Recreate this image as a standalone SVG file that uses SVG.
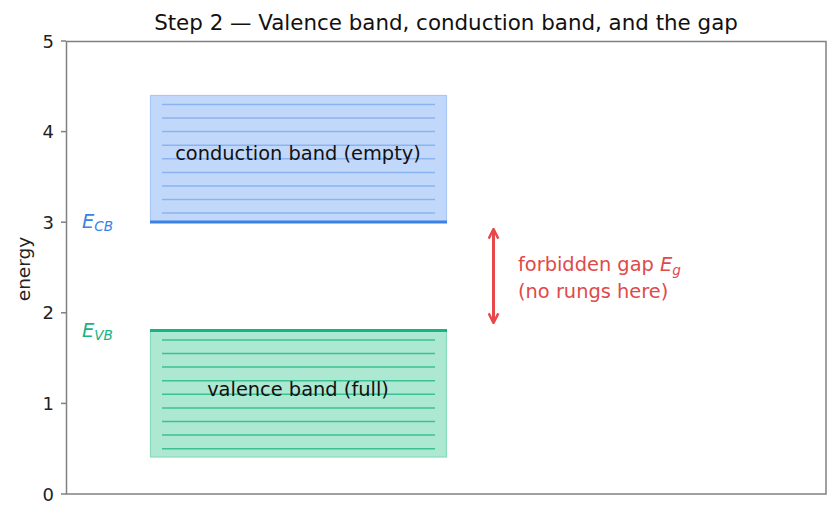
<svg xmlns="http://www.w3.org/2000/svg" width="840" height="519" viewBox="0 0 840 519">
<style>
text{font-family:"DejaVu Sans",sans-serif;}
.tick{font-size:18px;fill:#222;}
.axis{stroke:#808080;stroke-width:1.5;fill:none;}
.cbr{stroke:#8ab4f0;stroke-width:1.5;}
.vbr{stroke:#3cc194;stroke-width:1.5;}
</style>
<defs>
<marker id="ah" viewBox="0 0 10 10" refX="9" refY="5" markerWidth="4" markerHeight="4" orient="auto-start-reverse" markerUnits="strokeWidth">
<path d="M1,1 L9,5 L1,9" fill="none" stroke="#e8484a" stroke-width="2"/>
</marker>
</defs>
<rect width="840" height="519" fill="#fff"/>
<text x="446" y="30" font-size="21.4" text-anchor="middle" fill="#111">Step 2 — Valence band, conduction band, and the gap</text>
<g id="axes">
<rect class="axis" x="66.5" y="41.5" width="759.5" height="452.5"/>
<g stroke="#808080" stroke-width="1.5">
<line x1="61" y1="494" x2="66" y2="494"/><line x1="61" y1="403.4" x2="66" y2="403.4"/><line x1="61" y1="312.8" x2="66" y2="312.8"/><line x1="61" y1="222.2" x2="66" y2="222.2"/><line x1="61" y1="131.6" x2="66" y2="131.6"/><line x1="61" y1="41" x2="66" y2="41"/>
</g>
<g class="tick" text-anchor="end">
<text x="54" y="500.5">0</text><text x="54" y="410">1</text><text x="54" y="319.3">2</text><text x="54" y="228.7">3</text><text x="54" y="138.1">4</text><text x="54" y="47.5">5</text>
</g>
<text transform="translate(30,269) rotate(-90)" font-size="18.5" text-anchor="middle" fill="#222">energy</text>
</g>
<g id="conduction">
<rect x="150.5" y="95.5" width="296" height="126.5" fill="#c2d8fb" stroke="#a9c7f5" stroke-width="1.2"/>
<g class="cbr">
<line x1="162" y1="104.4" x2="435" y2="104.4"/><line x1="162" y1="118" x2="435" y2="118"/><line x1="162" y1="131.6" x2="435" y2="131.6"/><line x1="162" y1="145.2" x2="435" y2="145.2"/><line x1="162" y1="158.8" x2="435" y2="158.8"/><line x1="162" y1="172.4" x2="435" y2="172.4"/><line x1="162" y1="186" x2="435" y2="186"/><line x1="162" y1="199.5" x2="435" y2="199.5"/><line x1="162" y1="213.1" x2="435" y2="213.1"/>
</g>
<line x1="150" y1="222" x2="447" y2="222" stroke="#3b82e6" stroke-width="3"/>
<text x="298" y="159.5" font-size="19.4" text-anchor="middle" fill="#111">conduction band (empty)</text>
</g>
<g id="valence">
<rect x="150.5" y="331" width="296" height="126" fill="#ade8d2" stroke="#8adabd" stroke-width="1.2"/>
<g class="vbr">
<line x1="162" y1="340" x2="435" y2="340"/><line x1="162" y1="353.5" x2="435" y2="353.5"/><line x1="162" y1="367.1" x2="435" y2="367.1"/><line x1="162" y1="380.7" x2="435" y2="380.7"/><line x1="162" y1="394.3" x2="435" y2="394.3"/><line x1="162" y1="407.9" x2="435" y2="407.9"/><line x1="162" y1="421.5" x2="435" y2="421.5"/><line x1="162" y1="435.1" x2="435" y2="435.1"/><line x1="162" y1="448.7" x2="435" y2="448.7"/>
</g>
<line x1="150" y1="330.5" x2="447" y2="330.5" stroke="#16b384" stroke-width="3"/>
<text x="298" y="395.5" font-size="19.4" text-anchor="middle" fill="#111">valence band (full)</text>
</g>
<g id="labels">
<text x="82" y="228" font-size="19.4" fill="#3b82e6"><tspan font-style="italic">E</tspan><tspan font-style="italic" font-size="13.6" dy="3">CB</tspan></text>
<text x="82" y="337" font-size="19.4" fill="#16b384"><tspan font-style="italic">E</tspan><tspan font-style="italic" font-size="13.6" dy="3">VB</tspan></text>
</g>
<g id="connectors">
<line x1="493.5" y1="229" x2="493.5" y2="323" stroke="#e8484a" stroke-width="3" marker-start="url(#ah)" marker-end="url(#ah)"/>
</g>
<g id="gap-label" fill="#de4a4a" font-size="19.4">
<text x="518" y="270.5">forbidden gap <tspan font-style="italic">E</tspan><tspan font-style="italic" font-size="13.6" dy="4">g</tspan></text>
<text x="518" y="297.5">(no rungs here)</text>
</g>
</svg>
